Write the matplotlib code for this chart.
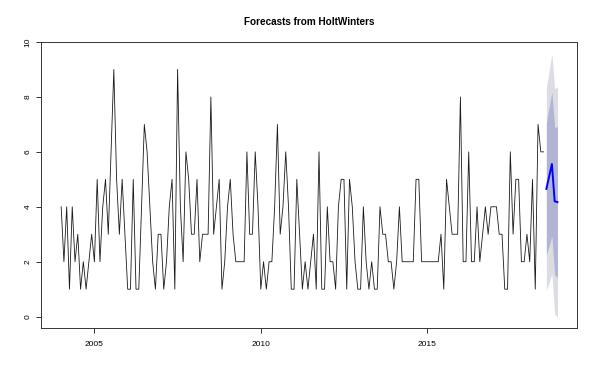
import numpy as np
import matplotlib
matplotlib.use("Agg")
import matplotlib.pyplot as plt

plt.rcParams['font.family'] = ['Liberation Sans', 'DejaVu Sans']

# monthly observations, Jan 2004 - Jul 2018
start_year = 2004
observed = [
    4, 2, 4, 1, 4, 2, 3, 1, 2, 1, 2, 3,
    2, 5, 2, 4, 5, 3, 6, 9, 5, 3, 5, 3,
    1, 1, 5, 1, 1, 4, 7, 6, 4, 2, 1, 3,
    3, 1, 2, 4, 5, 1, 9, 4, 2, 6, 5, 3,
    3, 5, 2, 3, 3, 3, 8, 3, 4, 5, 1, 2,
    4, 5, 3, 2, 2, 2, 2, 6, 3, 3, 6, 4,
    1, 2, 1, 2, 2, 4, 7, 3, 4, 6, 4, 1,
    1, 5, 3, 1, 2, 1, 2, 3, 1, 6, 1, 1,
    4, 2, 2, 1, 4, 5, 5, 1, 5, 4, 2, 1,
    1, 4, 2, 1, 2, 1, 1, 4, 3, 3, 2, 2,
    1, 2, 4, 2, 2, 2, 2, 2, 5, 5, 2, 2,
    2, 2, 2, 2, 2, 3, 1, 5, 4, 3, 3, 3,
    8, 2, 2, 6, 2, 2, 4, 2, 3, 4, 3, 4,
    4, 4, 3, 3, 1, 1, 6, 3, 5, 5, 2, 2,
    3, 2, 5, 1, 7, 6, 6,
]

# HoltWinters forecast, Aug - Dec 2018
fc_mean = [4.65, 5.1, 5.56, 4.2, 4.17]
fc_lo80 = [2.25, 2.58, 2.94, 1.52, 1.42]
fc_hi80 = [7.05, 7.62, 8.18, 6.88, 6.92]
fc_lo95 = [0.95, 1.25, 1.56, 0.10, -0.03]
fc_hi95 = [8.35, 8.95, 9.56, 8.30, 8.37]

t_obs = start_year + np.arange(len(observed)) / 12
t_fc = start_year + (len(observed) + np.arange(len(fc_mean))) / 12

fig = plt.figure(figsize=(5.99, 3.81), dpi=100)
ax = fig.add_axes([41.3 / 599, 53 / 381, 536 / 599, 286 / 381])

# prediction intervals (95% light, 80% darker) then the series
ax.fill_between(t_fc, fc_lo95, fc_hi95, color='#DCDCE3', lw=0)
ax.fill_between(t_fc, fc_lo80, fc_hi80, color='#B1B5D3', lw=0)
ax.plot(t_obs, observed, color='#1a1a1a', lw=0.6)
ax.plot(t_fc, fc_mean, color='#0000FF', lw=1.4)

# R style 4% padding
x0, x1 = t_obs[0], t_fc[-1]
ax.set_xlim(x0 - 0.04 * (x1 - x0), x1 + 0.04 * (x1 - x0))
y0, y1 = min(fc_lo95), max(fc_hi95)
ax.set_ylim(y0 - 0.04 * (y1 - y0), y1 + 0.04 * (y1 - y0))

ax.set_xticks([2005, 2010, 2015])
ax.set_yticks([0, 2, 4, 6, 8, 10])
ax.tick_params(axis='both', length=3.6, width=0.7, color='#333333', labelsize=6)
ax.tick_params(axis='x', pad=5.5)
ax.tick_params(axis='y', pad=3.5)
for lab in ax.get_yticklabels():
    lab.set_rotation(90)
    lab.set_va('center')
for s in ax.spines.values():
    s.set_linewidth(0.7)
    s.set_color('#333333')

fig.text(309 / 599, 1 - 22 / 381, 'Forecasts from HoltWinters', ha='center', va='center',
         fontsize=7.2, fontweight='bold')

fig.savefig('out.png', dpi=100)
